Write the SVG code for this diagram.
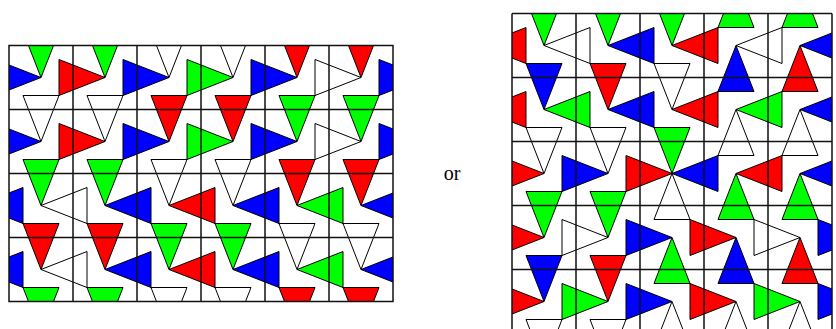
<svg xmlns="http://www.w3.org/2000/svg" width="836" height="329" viewBox="0 0 836 329">
<style>
use{stroke:#000;stroke-width:1;stroke-linejoin:miter}
.g{fill:#00ff00}.r{fill:#ff0000}.b{fill:#0000ff}.w{fill:#ffffff}
.grid{stroke:#111;stroke-width:1.5;fill:none}
</style>
<defs>
<polygon id="D" points="0,0 -18,-46 18,-46"/>
<polygon id="U" points="0,0 -18,46 18,46"/>
<polygon id="R" points="0,0 -46,-18 -46,18"/>
<polygon id="L" points="0,0 46,-18 46,18"/>
<clipPath id="cl"><rect x="9" y="45.5" width="384" height="256"/></clipPath>
<clipPath id="cr"><rect x="512" y="13.5" width="320" height="320"/></clipPath>
</defs>
<rect width="836" height="329" fill="#fff"/>
<g id="left-tiling">
<g clip-path="url(#cl)">
<!-- row 0 -->
<use href="#D" x="41" y="77.5" class="g"/><use href="#D" x="105" y="77.5" class="g"/><use href="#D" x="169" y="77.5" class="w"/><use href="#D" x="233" y="77.5" class="w"/><use href="#D" x="297" y="77.5" class="r"/><use href="#D" x="361" y="77.5" class="r"/>
<use href="#R" x="41" y="77.5" class="b"/><use href="#R" x="105" y="77.5" class="r"/><use href="#R" x="169" y="77.5" class="b"/><use href="#R" x="233" y="77.5" class="g"/><use href="#R" x="297" y="77.5" class="b"/><use href="#R" x="361" y="77.5" class="w"/><use href="#R" x="425" y="77.5" class="b"/>
<!-- row 1 -->
<use href="#D" x="41" y="141.5" class="w"/><use href="#D" x="105" y="141.5" class="w"/><use href="#D" x="169" y="141.5" class="r"/><use href="#D" x="233" y="141.5" class="r"/><use href="#D" x="297" y="141.5" class="g"/><use href="#D" x="361" y="141.5" class="g"/>
<use href="#R" x="41" y="141.5" class="b"/><use href="#R" x="105" y="141.5" class="r"/><use href="#R" x="169" y="141.5" class="b"/><use href="#R" x="233" y="141.5" class="g"/><use href="#R" x="297" y="141.5" class="b"/><use href="#R" x="361" y="141.5" class="w"/><use href="#R" x="425" y="141.5" class="b"/>
<!-- row 2 -->
<use href="#D" x="41" y="205.5" class="g"/><use href="#D" x="105" y="205.5" class="g"/><use href="#D" x="169" y="205.5" class="w"/><use href="#D" x="233" y="205.5" class="w"/><use href="#D" x="297" y="205.5" class="r"/><use href="#D" x="361" y="205.5" class="r"/>
<use href="#L" x="-23" y="205.5" class="b"/><use href="#L" x="41" y="205.5" class="w"/><use href="#L" x="105" y="205.5" class="b"/><use href="#L" x="169" y="205.5" class="r"/><use href="#L" x="233" y="205.5" class="b"/><use href="#L" x="297" y="205.5" class="g"/><use href="#L" x="361" y="205.5" class="b"/>
<!-- row 3 -->
<use href="#D" x="41" y="269.5" class="r"/><use href="#D" x="105" y="269.5" class="r"/><use href="#D" x="169" y="269.5" class="g"/><use href="#D" x="233" y="269.5" class="g"/><use href="#D" x="297" y="269.5" class="w"/><use href="#D" x="361" y="269.5" class="w"/>
<use href="#L" x="-23" y="269.5" class="b"/><use href="#L" x="41" y="269.5" class="w"/><use href="#L" x="105" y="269.5" class="b"/><use href="#L" x="169" y="269.5" class="r"/><use href="#L" x="233" y="269.5" class="b"/><use href="#L" x="297" y="269.5" class="g"/><use href="#L" x="361" y="269.5" class="b"/>
<!-- row 4 -->
<use href="#D" x="41" y="333.5" class="g"/><use href="#D" x="105" y="333.5" class="g"/><use href="#D" x="169" y="333.5" class="w"/><use href="#D" x="233" y="333.5" class="w"/><use href="#D" x="297" y="333.5" class="r"/><use href="#D" x="361" y="333.5" class="r"/>
</g>
<g class="grid">
<rect x="9" y="45.5" width="384" height="256"/>
<path d="M73 45.5V301.5M137 45.5V301.5M201 45.5V301.5M265 45.5V301.5M329 45.5V301.5M9 109.5H393M9 173.5H393M9 237.5H393"/>
</g>
</g>
<text x="452" y="180" font-family="'Liberation Serif', 'DejaVu Serif', serif" font-size="20" text-anchor="middle" fill="#000">or</text>
<g id="right-tiling">
<g clip-path="url(#cr)">
<!-- row -1 -->
<use href="#U" x="736" y="-18.5" class="g"/><use href="#U" x="800" y="-18.5" class="g"/>
<!-- row 0 -->
<use href="#L" x="480" y="45.5" class="r"/>
<use href="#D" x="544" y="45.5" class="g"/><use href="#L" x="544" y="45.5" class="w"/>
<use href="#D" x="608" y="45.5" class="g"/><use href="#L" x="608" y="45.5" class="b"/>
<use href="#D" x="672" y="45.5" class="g"/><use href="#L" x="672" y="45.5" class="r"/>
<use href="#U" x="736" y="45.5" class="b"/><use href="#L" x="736" y="45.5" class="w"/>
<use href="#U" x="800" y="45.5" class="r"/><use href="#L" x="800" y="45.5" class="b"/>
<!-- row 1 -->
<use href="#L" x="480" y="109.5" class="r"/>
<use href="#D" x="544" y="109.5" class="b"/><use href="#L" x="544" y="109.5" class="g"/>
<use href="#D" x="608" y="109.5" class="r"/><use href="#L" x="608" y="109.5" class="b"/>
<use href="#D" x="672" y="109.5" class="w"/><use href="#L" x="672" y="109.5" class="r"/>
<use href="#U" x="736" y="109.5" class="w"/><use href="#L" x="736" y="109.5" class="g"/>
<use href="#U" x="800" y="109.5" class="w"/><use href="#L" x="800" y="109.5" class="b"/>
<!-- row 2 -->
<use href="#R" x="544" y="173.5" class="r"/><use href="#D" x="544" y="173.5" class="w"/>
<use href="#R" x="608" y="173.5" class="b"/><use href="#D" x="608" y="173.5" class="w"/>
<use href="#D" x="672" y="173.5" class="g"/><use href="#R" x="672" y="173.5" class="r"/><use href="#L" x="672" y="173.5" class="b"/><use href="#U" x="672" y="173.5" class="w"/>
<use href="#U" x="736" y="173.5" class="g"/><use href="#L" x="736" y="173.5" class="r"/>
<use href="#U" x="800" y="173.5" class="g"/><use href="#L" x="800" y="173.5" class="b"/>
<!-- row 3 -->
<use href="#D" x="544" y="237.5" class="g"/><use href="#R" x="544" y="237.5" class="r"/>
<use href="#D" x="608" y="237.5" class="g"/><use href="#R" x="608" y="237.5" class="w"/>
<use href="#R" x="672" y="237.5" class="b"/><use href="#U" x="672" y="237.5" class="g"/>
<use href="#R" x="736" y="237.5" class="r"/><use href="#U" x="736" y="237.5" class="b"/>
<use href="#R" x="800" y="237.5" class="w"/><use href="#U" x="800" y="237.5" class="r"/>
<use href="#R" x="864" y="237.5" class="b"/>
<!-- row 4 -->
<use href="#D" x="544" y="301.5" class="b"/><use href="#R" x="544" y="301.5" class="r"/>
<use href="#D" x="608" y="301.5" class="r"/><use href="#R" x="608" y="301.5" class="g"/>
<use href="#R" x="672" y="301.5" class="b"/><use href="#U" x="672" y="301.5" class="w"/>
<use href="#R" x="736" y="301.5" class="r"/><use href="#U" x="736" y="301.5" class="w"/>
<use href="#R" x="800" y="301.5" class="g"/><use href="#U" x="800" y="301.5" class="w"/>
<use href="#R" x="864" y="301.5" class="b"/>
<!-- row 5 -->
<use href="#D" x="544" y="365.5" class="w"/><use href="#D" x="608" y="365.5" class="w"/>
</g>
<g class="grid">
<path d="M512 13.5V329M576 13.5V329M640 13.5V329M704 13.5V329M768 13.5V329M832 13.5V329M512 13.5H832M512 77.5H832M512 141.5H832M512 205.5H832M512 269.5H832"/>
</g>
</g>
</svg>
